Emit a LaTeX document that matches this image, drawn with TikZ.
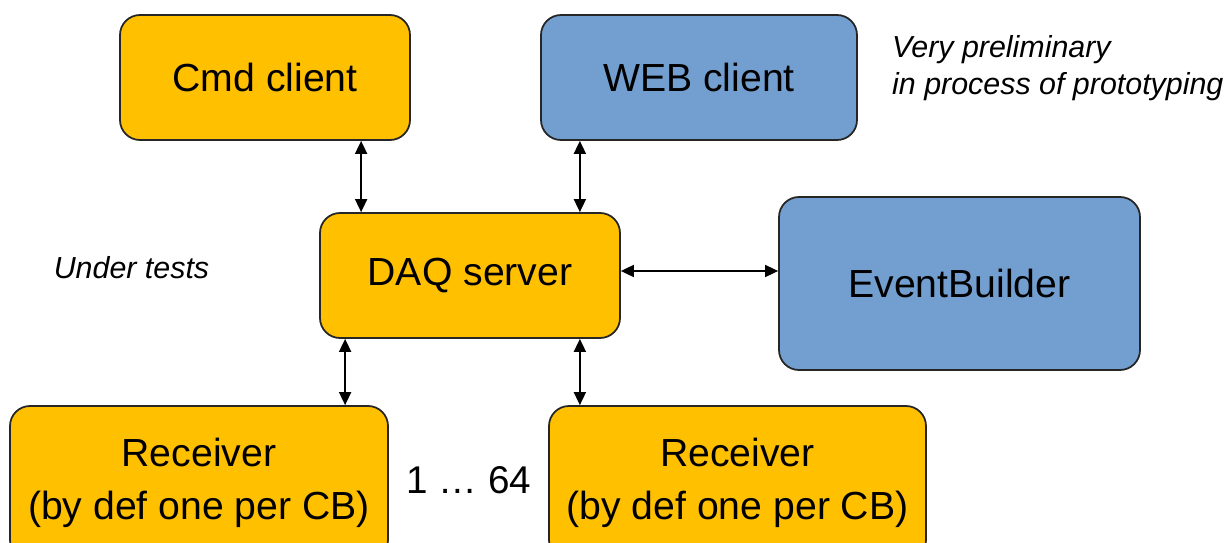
\documentclass[tikz,border=0pt]{standalone}
\usepackage{fontspec}
\setmainfont{Liberation Sans}
\usetikzlibrary{arrows.meta}

\definecolor{boxorange}{RGB}{255,192,0}
\definecolor{boxblue}{RGB}{114,159,207}

\begin{document}
\begin{tikzpicture}[
    box/.style={draw=black!85, line width=1pt, rounded corners=0.4cm, align=center,
        inner sep=0pt, font=\fontsize{22.3}{30}\selectfont},
    orangebox/.style={box, fill=boxorange},
    bluebox/.style={box, fill=boxblue},
    link/.style={{Triangle[length=0.26cm, width=0.24cm]}-{Triangle[length=0.26cm, width=0.24cm]}, line width=1pt},
    note/.style={font=\fontsize{17.3}{21}\selectfont\itshape, align=left}
]

    % Picture frame
    \useasboundingbox (0, 0) rectangle (24.5, 10.84);

    % Clients
    \node[orangebox, minimum width=5.8cm, minimum height=2.5cm] (cmd) at (5.3, 9.29) {Cmd client};
    \node[bluebox, minimum width=6.32cm, minimum height=2.5cm] (web) at (13.98, 9.29) {WEB client};

    % Server and event builder
    \node[orangebox, minimum width=6.0cm, minimum height=2.5cm] (daq) at (9.4, 5.33) {DAQ server};
    \node[bluebox, minimum width=7.22cm, minimum height=3.46cm] (eb) at (19.19, 5.17) {EventBuilder};

    % Receivers
    \node[orangebox, minimum width=7.56cm, minimum height=3.08cm] (rec1) at (3.98, 1.18) {Receiver\\(by def one per CB)};
    \node[orangebox, minimum width=7.54cm, minimum height=3.08cm] (rec2) at (14.75, 1.18) {Receiver\\(by def one per CB)};

    % Connections
    \draw[link] ([xshift=0.84cm]daq.north west) -- ([xshift=0.84cm]daq.north west |- cmd.south);
    \draw[link] ([xshift=-0.82cm]daq.north east) -- ([xshift=-0.82cm]daq.north east |- web.south);
    \draw[link] ([yshift=0.09cm]daq.east) -- ([yshift=0.09cm]daq.east -| eb.west);
    \draw[link] ([xshift=0.52cm]daq.south west) -- ([xshift=0.52cm]daq.south west |- rec1.north);
    \draw[link] ([xshift=-0.82cm]daq.south east) -- ([xshift=-0.82cm]daq.south east |- rec2.north);

    % Notes
    \node[note] (tests) at (2.63, 5.48) {Under tests};
    \node[note, anchor=west] (proto) at (17.72, 9.47) {Very preliminary\\in process of prototyping};
    \node[font=\fontsize{22}{30}\selectfont] (count) at (9.38, 1.24) {1 … 64};

\end{tikzpicture}
\end{document}
